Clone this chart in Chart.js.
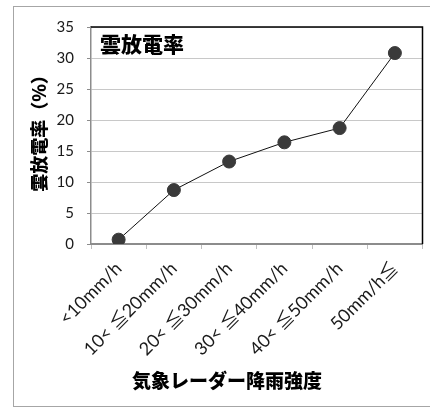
<!DOCTYPE html>
<html>
<head>
<meta charset="utf-8">
<script src="https://cdn.jsdelivr.net/npm/chart.js@4"></script>
<style>
  html, body { margin: 0; padding: 0; background: #fff; }
  #wrap { width: 430px; height: 408px; }
</style>
</head>
<body>
<div id="wrap"><canvas id="chart" width="430" height="408"></canvas></div>
<script>
// data
const categories = ["<10mm/h", "10< ≦20mm/h", "20< ≦30mm/h", "30< ≦40mm/h", "40< ≦50mm/h", "50mm/h≦"];
const rates = [0.7, 8.7, 13.3, 16.4, 18.7, 30.8];
const chartTitle = "雲放電率";
const yTitle = "雲放電率（%）";
const xTitle = "気象レーダー降雨強度";

const labelFont = "Lato, 'Noto Sans CJK JP', sans-serif";
const jpFont = "'Noto Sans CJK JP', sans-serif";

// outer frame, plot box and the titles
const framePlugin = {
    id: "frame",
    beforeDraw(chart) {
        const c = chart.ctx;
        c.save();
        c.fillStyle = "#fff";
        c.fillRect(0, 0, chart.width, chart.height);
        c.strokeStyle = "#a6a6a6";
        c.lineWidth = 1;
        c.strokeRect(13.5, 6.5, chart.width, 400);
        c.restore();
    },
    afterDatasetsDraw(chart) {
        const { left, top, right, bottom } = chart.chartArea;
        const c = chart.ctx;
        c.save();
        c.strokeStyle = "#000";
        c.lineWidth = 1.5;
        c.beginPath();
        c.moveTo(left, top);
        c.lineTo(right, top);
        c.lineTo(right, bottom);
        c.stroke();

        c.fillStyle = "#000";
        c.textBaseline = "middle";
        c.font = "900 21px " + jpFont;
        c.textAlign = "left";
        c.fillText(chartTitle, left + 9, top + 17);

        c.font = "900 19px " + jpFont;
        c.textAlign = "center";
        c.fillText(xTitle, 227, 381);

        c.translate(39, 129);
        c.rotate(-Math.PI / 2);
        c.font = "900 18px " + jpFont;
        c.fillText(yTitle, 0, 0);
        c.restore();
    }
};

new Chart(document.getElementById("chart"), {
    type: "line",
    data: {
        labels: categories,
        datasets: [{
            data: rates,
            borderColor: "#111",
            borderWidth: 1,
            backgroundColor: "#3a3a3a",
            pointBackgroundColor: "#3a3a3a",
            pointBorderColor: "#3a3a3a",
            pointRadius: 6.5,
            tension: 0
        }]
    },
    options: {
        responsive: false,
        animation: false,
        layout: { padding: { left: 13, right: 1, top: 27, bottom: 2 } },
        plugins: { legend: { display: false }, tooltip: { enabled: false } },
        scales: {
            x: {
                offset: true,
                grid: {
                    offset: true,
                    drawOnChartArea: false,
                    drawTicks: true,
                    tickLength: 5,
                    color: "#bfbfbf"
                },
                border: { color: "#8c8c8c", width: 2 },
                ticks: {
                    autoSkip: false,
                    minRotation: 45,
                    maxRotation: 45,
                    padding: 9,
                    color: "#1a1a1a",
                    font: { family: labelFont, size: 18 }
                },
                afterFit(scale) { scale.height = 162; }
            },
            y: {
                min: 0,
                max: 35,
                ticks: {
                    stepSize: 5,
                    padding: 13,
                    color: "#1a1a1a",
                    font: { family: labelFont, size: 15 }
                },
                grid: {
                    color: "#c8c8c8",
                    tickLength: 4,
                    tickColor: "#8c8c8c"
                },
                border: { color: "#8c8c8c", width: 1.5 },
                afterFit(scale) { scale.width = 78; }
            }
        }
    },
    plugins: [framePlugin]
});
</script>
</body>
</html>
